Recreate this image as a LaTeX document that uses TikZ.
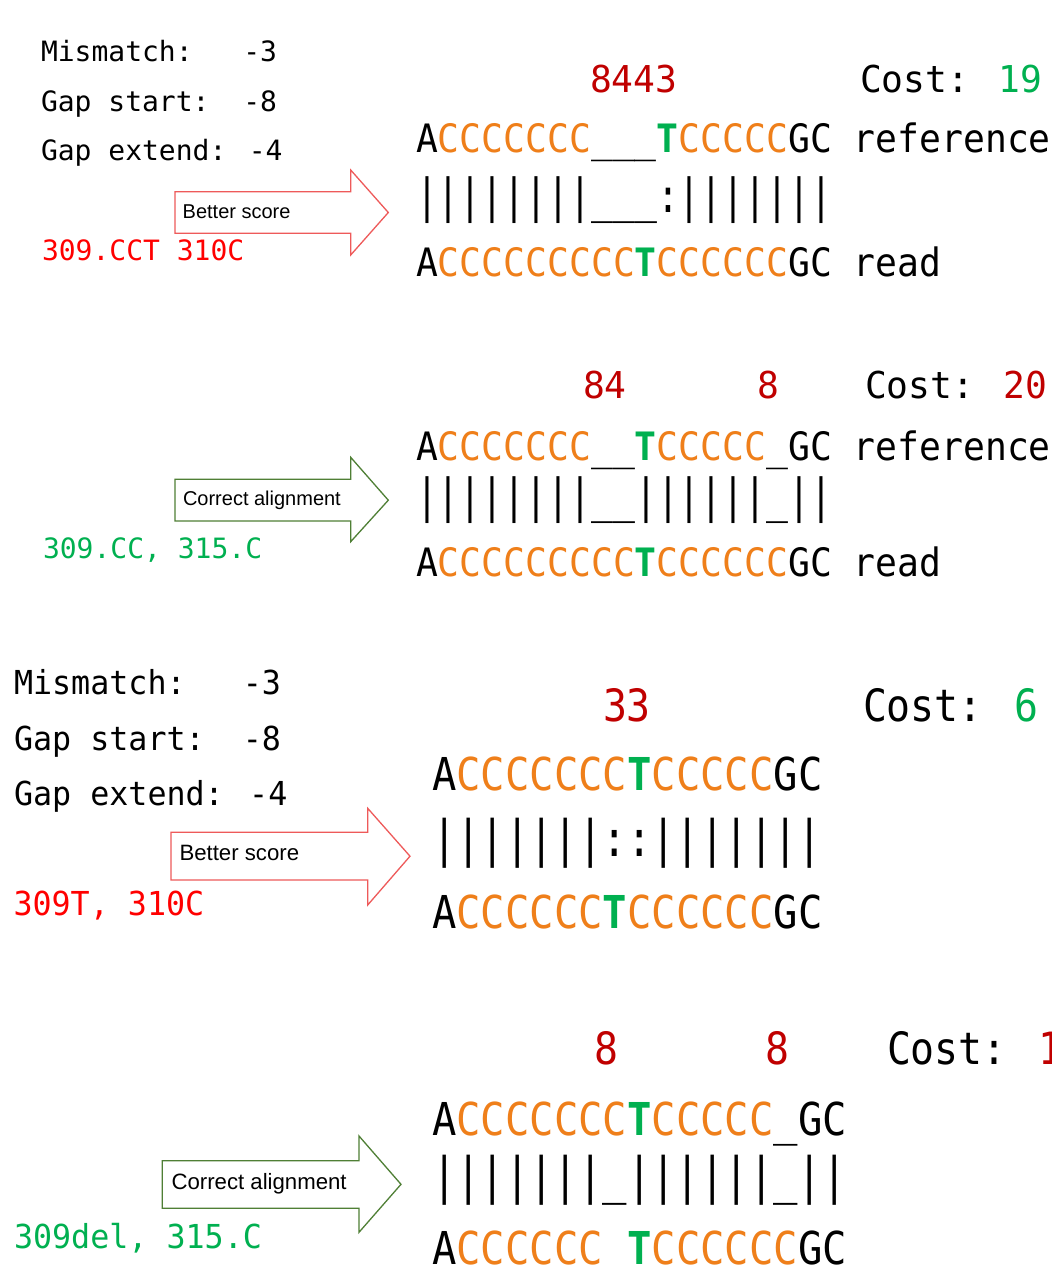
\documentclass[tikz,border=0pt]{standalone}
\usepackage{fontspec}
\setmainfont{Liberation Sans}
\newfontfamily\lblA{DejaVu Sans Mono}
\newfontfamily\lblB[FakeStretch=0.96]{DejaVu Sans Mono}
\newfontfamily\seqA[FakeStretch=0.93]{DejaVu Sans Mono}
\newfontfamily\seqB[FakeStretch=0.895]{DejaVu Sans Mono}
\newfontfamily\pipA[FakeStretch=0.776]{DejaVu Sans Mono}
\newfontfamily\pipB[FakeStretch=0.807]{DejaVu Sans Mono}
\newfontfamily\topA[FakeStretch=0.98]{DejaVu Sans Mono}
\definecolor{corange}{HTML}{EF7F1A}
\definecolor{cgreen}{HTML}{00B050}
\definecolor{cdred}{HTML}{C00000}
\definecolor{cred}{HTML}{FF0000}
\definecolor{arred}{HTML}{EE5A5A}
\definecolor{argreen}{HTML}{4F7F35}
\newcommand\xC[1]{\textcolor{corange}{#1}}
\newcommand\xT{\textcolor{cgreen}{\bfseries T}}
\newcommand\xU{\textunderscore}
\tikzset{
  base/.style={anchor=base west, inner sep=0pt, outer sep=0pt},
  lbla/.style={base, font=\lblA\fontsize{28}{30}\selectfont},
  lblb/.style={base, font=\lblB\fontsize{33}{35}\selectfont},
  seqa/.style={base, font=\seqA\fontsize{39.1}{40}\selectfont},
  seqb/.style={base, font=\seqB\fontsize{45.3}{46}\selectfont},
  pipa/.style={base, font=\pipA\fontsize{46.9}{48}\selectfont},
  pipb/.style={base, font=\pipB\fontsize{50.2}{52}\selectfont},
  topa/.style={base, font=\topA\fontsize{37}{38}\selectfont},
  topb/.style={base, font=\seqB\fontsize{44.5}{46}\selectfont},
  arrtxta/.style={base, font=\fontsize{20}{22}\selectfont},
  arrtxtb/.style={base, font=\fontsize{22.2}{24}\selectfont},
  redarrow/.style={draw=arred, line width=1.3pt, fill=white, line join=miter},
  greenarrow/.style={draw=argreen, line width=1.3pt, fill=white, line join=miter}
}
\begin{document}
\begin{tikzpicture}[x=1pt,y=-1pt]
\useasboundingbox (0,0) rectangle (1052,1270);
\fill[white] (0,0) rectangle (1052,1270);

% ---------------- Panel 1 ----------------
\node[lbla] (p1m) at (41,61.5) {Mismatch:~~~-3};
\node[lbla] (p1s) at (41,111) {Gap start:~~-8};
\node[lbla] (p1e) at (41,160.5) {Gap extend: -4};
\draw[redarrow] (175,191.7) -- (350.7,191.7) -- (350.7,170) -- (388.3,212.5) -- (350.7,255) -- (350.7,233.3) -- (175,233.3) -- cycle;
\node[arrtxta] (p1a) at (182.7,218.3) {Better score};
\node[lbla, text=cred] (p1v) at (42,260) {309.CCT 310C};
\node[topa, text=cdred] (p1n) at (590,92) {8443};
\node[topa] (p1c) at (860,92) {Cost: \textcolor{cgreen}{19}};
\node[seqa] (p1r) at (416,152.7) {A\xC{CCCCCCC}\xU\xU\xU\xT\xC{CCCCC}GC reference};
\node[pipa] (p1p) at (416,212.2) {||||||||\xU\xU\xU:|||||||};
\node[seqa] (p1d) at (416,276.7) {A\xC{CCCCCCCCC}\xT\xC{CCCCCC}GC read};

% ---------------- Panel 2 ----------------
\draw[greenarrow] (175,479.3) -- (350.7,479.3) -- (350.7,457.3) -- (388.3,500.2) -- (350.7,541.7) -- (350.7,521) -- (175,521) -- cycle;
\node[arrtxta] (p2a) at (183,505) {Correct alignment};
\node[lbla, text=cgreen] (p2v) at (43,558.3) {309.CC, 315.C};
\node[topa, text=cdred] (p2n) at (583,398.3) {84};
\node[topa, text=cdred] (p2k) at (757,398.3) {8};
\node[topa] (p2c) at (865,398.3) {Cost: \textcolor{cdred}{20}};
\node[seqa] (p2r) at (416,460) {A\xC{CCCCCCC}\xU\xU\xT\xC{CCCCC}\xU GC reference};
\node[pipa] (p2p) at (416,512.9) {||||||||\xU\xU||||||\xU||};
\node[seqa] (p2d) at (416,576.7) {A\xC{CCCCCCCCC}\xT\xC{CCCCCC}GC read};

% ---------------- Panel 3 ----------------
\node[lblb] (p3m) at (14,694) {Mismatch:~~~-3};
\node[lblb] (p3s) at (14,750) {Gap start:~~-8};
\node[lblb] (p3e) at (14,805) {Gap extend: -4};
\draw[redarrow] (171,832.3) -- (367.7,832.3) -- (367.7,808.3) -- (410,856.2) -- (367.7,905) -- (367.7,880) -- (171,880) -- cycle;
\node[arrtxtb] (p3a) at (179.5,860.7) {Better score};
\node[lblb, text=cred] (p3v) at (13.5,915) {309T, 310C};
\node[topb, text=cdred] (p3n) at (603,721.7) {33};
\node[topb] (p3c) at (863,721.7) {Cost: \textcolor{cgreen}{6}};
\node[seqb] (p3r) at (432,790) {A\xC{CCCCCCC}\xT\xC{CCCCC}GC};
\node[pipb] (p3p) at (432,856.5) {|||||||::|||||||};
\node[seqb] (p3d) at (432,928.3) {A\xC{CCCCCC}\xT\xC{CCCCCC}GC};

% ---------------- Panel 4 ----------------
\draw[greenarrow] (162.3,1160.7) -- (359,1160.7) -- (359,1136) -- (401,1184.3) -- (359,1232.3) -- (359,1208.3) -- (162.3,1208.3) -- cycle;
\node[arrtxtb] (p4a) at (171.5,1189.3) {Correct alignment};
\node[lblb, text=cgreen] (p4v) at (14,1248.3) {309del, 315.C};
\node[topb, text=cdred] (p4n) at (594,1064.3) {8};
\node[topb, text=cdred] (p4k) at (765,1064.3) {8};
\node[topb] (p4c) at (887,1064.3) {Cost: \textcolor{cdred}{1}};
\node[seqb] (p4r) at (432,1135) {A\xC{CCCCCCC}\xT\xC{CCCCC}\xU GC};
\node[pipb] (p4p) at (432,1193.2) {|||||||\xU||||||\xU||};
\node[seqb, text depth=0pt] (p4d) at (432,1264.3) {A\xC{CCCCCC}~\xT\xC{CCCCCC}GC};
\end{tikzpicture}
\end{document}
